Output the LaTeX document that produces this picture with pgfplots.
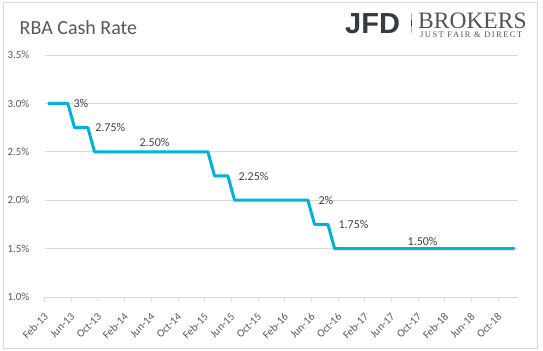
\documentclass[border=0pt]{standalone}
\usepackage{fontspec}
\setmainfont{Carlito}
\newfontfamily\logosans{Liberation Sans}
\newfontfamily\logoserif{Liberation Serif}
\newfontfamily\logoserifsp[LetterSpace=17]{Liberation Serif}
\usepackage{pgfplots}
\pgfplotsset{compat=1.18}
\usepackage{pgfplotstable}

\definecolor{linec}{HTML}{00B2DB}
\definecolor{gridc}{HTML}{D9D9D9}
\definecolor{tickc}{HTML}{595959}
\definecolor{labc}{HTML}{404040}
\definecolor{jfdc}{HTML}{363B40}
\definecolor{brokc}{HTML}{50555B}

% monthly RBA cash rate, Feb-13 (0) ... Dec-18 (70)
\pgfplotstableread{
x y
0 3.00
1 3.00
2 3.00
3 3.00
4 2.75
5 2.75
6 2.75
7 2.50
8 2.50
9 2.50
10 2.50
11 2.50
12 2.50
13 2.50
14 2.50
15 2.50
16 2.50
17 2.50
18 2.50
19 2.50
20 2.50
21 2.50
22 2.50
23 2.50
24 2.50
25 2.25
26 2.25
27 2.25
28 2.00
29 2.00
30 2.00
31 2.00
32 2.00
33 2.00
34 2.00
35 2.00
36 2.00
37 2.00
38 2.00
39 2.00
40 1.75
41 1.75
42 1.75
43 1.50
44 1.50
45 1.50
46 1.50
47 1.50
48 1.50
49 1.50
50 1.50
51 1.50
52 1.50
53 1.50
54 1.50
55 1.50
56 1.50
57 1.50
58 1.50
59 1.50
60 1.50
61 1.50
62 1.50
63 1.50
64 1.50
65 1.50
66 1.50
67 1.50
68 1.50
69 1.50
70 1.50
}\ratedata

\begin{document}
\begin{tikzpicture}
\useasboundingbox (0,0) rectangle (543bp,351bp);
\draw[gridc, line width=0.75bp] (3bp,3bp) rectangle (537.5bp,349bp);

\node[anchor=base west, inner sep=0, text=tickc, font=\fontsize{20bp}{24bp}\selectfont] at (19.5bp,316bp) {RBA Cash Rate};

% logo
\node[anchor=base west, inner sep=0, text=jfdc] at (345bp,317bp) {\logosans\bfseries\fontsize{29bp}{31bp}\selectfont JFD};
\draw[gray!60, line width=0.6bp] (411.5bp,318bp) -- (411.5bp,338bp);
\fill[jfdc] (410.8bp,325bp) rectangle (412.2bp,331bp);
\node[anchor=base west, inner sep=0, text=brokc] at (418bp,322.5bp) {\logoserif\fontsize{23.5bp}{25bp}\selectfont BROKERS};
\node[anchor=base west, inner sep=0, text=brokc] at (420bp,313.7bp) {\logoserifsp\fontsize{8.5bp}{10bp}\selectfont JUST FAIR \& DIRECT};

\begin{axis}[
  at={(44.5bp,54bp)}, anchor=south west,
  scale only axis, width=473.5bp, height=242bp,
  xmin=-0.5, xmax=70.5, ymin=1, ymax=3.5,
  clip=false,
  axis line style={draw=none},
  /pgf/number format/assume math mode=true,
  ytick={1,1.5,2,2.5,3,3.5},
  yticklabel={\pgfmathprintnumber[fixed,fixed zerofill,precision=1]{\tick}\%},
  ytick style={draw=none},
  yticklabel style={font=\fontsize{11bp}{13bp}\selectfont, text=tickc, inner sep=0pt, xshift=-11bp},
  ymajorgrids, major grid style={gridc, line width=0.75bp},
  xtick={-0.5,3.5,...,67.5},
  xticklabels={Feb-13,Jun-13,Oct-13,Feb-14,Jun-14,Oct-14,Feb-15,Jun-15,Oct-15,Feb-16,Jun-16,Oct-16,Feb-17,Jun-17,Oct-17,Feb-18,Jun-18,Oct-18},
  xtick pos=left, tick align=outside,
  major tick length=4bp,
  xtick style={gridc, line width=0.75bp},
  xticklabel style={xshift=1.8bp, yshift=-14bp, rotate=45, anchor=east, inner sep=0pt, font=\fontsize{11bp}{13bp}\selectfont, text=tickc},
]
\addplot[linec, line width=3bp, line join=round, mark=none] table[x=x,y=y] {\ratedata};

\addplot[draw=none, mark=none, nodes near coords, point meta=explicit symbolic,
  nodes near coords style={anchor=west, inner sep=0pt, xshift=5.5bp, font=\fontsize{12bp}{14bp}\selectfont, text=labc}]
  coordinates {(3,3.0) [3\%]};
\addplot[draw=none, mark=none, nodes near coords, point meta=explicit symbolic,
  nodes near coords style={anchor=west, inner sep=0pt, xshift=7.3bp, font=\fontsize{12bp}{14bp}\selectfont, text=labc}]
  coordinates {(6,2.75) [2.75\%]};
\addplot[draw=none, mark=none, nodes near coords, point meta=explicit symbolic,
  nodes near coords style={anchor=west, inner sep=0pt, xshift=10.5bp, font=\fontsize{12bp}{14bp}\selectfont, text=labc}]
  coordinates {(27,2.25) [2.25\%] (39,2.0) [2\%] (42,1.75) [1.75\%]};
\addplot[draw=none, mark=none, nodes near coords, point meta=explicit symbolic,
  nodes near coords style={anchor=base, inner sep=0pt, yshift=5.5bp, font=\fontsize{12bp}{14bp}\selectfont, text=labc}]
  coordinates {(16,2.5) [2.50\%]};
\addplot[draw=none, mark=none, nodes near coords, point meta=explicit symbolic,
  nodes near coords style={anchor=base, inner sep=0pt, yshift=3.5bp, font=\fontsize{12bp}{14bp}\selectfont, text=labc}]
  coordinates {(56.2,1.5) [1.50\%]};
\end{axis}
\end{tikzpicture}
\end{document}
